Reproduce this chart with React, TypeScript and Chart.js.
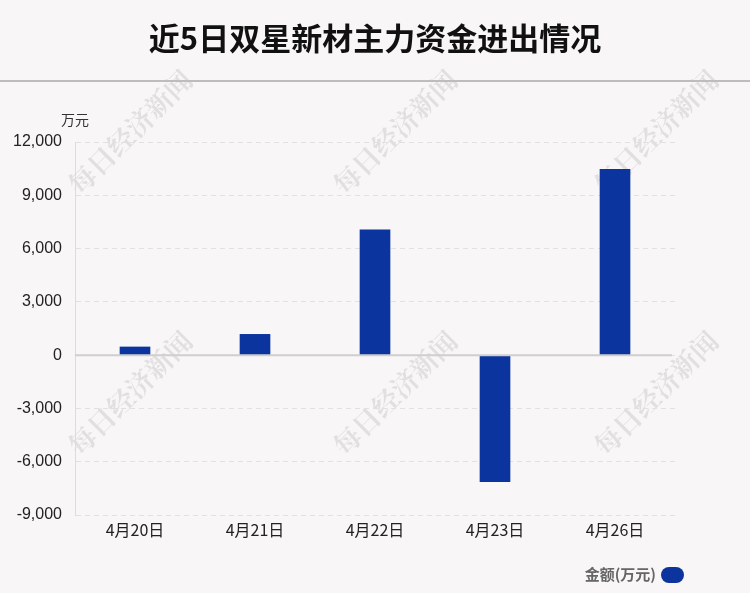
import React, { useEffect, useRef } from "react";
import { Chart, registerables } from "chart.js";

Chart.register(...registerables);

const categories = ["4月20日", "4月21日", "4月22日", "4月23日", "4月26日"];
const amounts = [460, 1170, 7050, -7130, 10460];
const seriesName = "金额(万元)";
const titleText = "近5日双星新材主力资金进出情况";
const unitText = "万元";
const watermarkText = "每日经济新闻";

const BAR_COLOR = "#0c349f";
const FONT = "'Liberation Sans', Arial, 'Noto Sans CJK SC', sans-serif";
const CJK_FONT = "'Noto Sans CJK SC', 'Liberation Sans', sans-serif";

const decorPlugin = {
  id: "decor",
  beforeDraw(chart: any) {
    const { ctx, width } = chart;
    ctx.save();
    ctx.fillStyle = "#f9f6f7";
    ctx.fillRect(0, 0, width, chart.height);
    // watermarks
    ctx.fillStyle = "rgba(0,0,0,0.09)";
    ctx.font = `bold 27px 'Noto Serif CJK SC', serif`;
    ctx.textAlign = "center";
    ctx.textBaseline = "middle";
    const centers = [
      [130, 132], [395, 132], [656, 132],
      [130, 393], [395, 393], [656, 393],
    ];
    for (const [cx, cy] of centers) {
      ctx.save();
      ctx.translate(cx, cy);
      ctx.rotate(-Math.PI / 4);
      ctx.fillText(watermarkText, 0, 0);
      ctx.restore();
    }
    // title
    ctx.fillStyle = "#111";
    ctx.font = `bold 31px ${CJK_FONT}`;
    ctx.textAlign = "center";
    ctx.textBaseline = "middle";
    ctx.fillText(titleText, width / 2, 38);
    // separator
    ctx.strokeStyle = "#bdbdbd";
    ctx.lineWidth = 2;
    ctx.beginPath();
    ctx.moveTo(0, 81);
    ctx.lineTo(width, 81);
    ctx.stroke();
    // unit
    ctx.fillStyle = "#333";
    ctx.font = `14px ${CJK_FONT}`;
    ctx.textAlign = "left";
    ctx.fillText(unitText, 61, 120);
    ctx.restore();
  },
  afterDatasetsDraw(chart: any) {
    const { ctx, chartArea, scales } = chart;
    const y0 = scales.y.getPixelForValue(0);
    ctx.save();
    ctx.strokeStyle = "#cfcfcf";
    ctx.lineWidth = 2;
    ctx.beginPath();
    ctx.moveTo(chartArea.left, y0);
    ctx.lineTo(chartArea.right - 3, y0);
    ctx.stroke();
    // legend
    ctx.font = `bold 15px ${CJK_FONT}`;
    ctx.fillStyle = "#666";
    ctx.textAlign = "right";
    ctx.textBaseline = "middle";
    ctx.fillText(seriesName, 656, 574);
    ctx.fillStyle = BAR_COLOR;
    ctx.beginPath();
    (ctx as any).roundRect(661, 567, 23, 16, 8);
    ctx.fill();
    ctx.restore();
  },
};

export default function App() {
  const ref = useRef<HTMLCanvasElement>(null);
  useEffect(() => {
    if (!ref.current) return;
    const chart = new Chart(ref.current, {
      type: "bar",
      data: {
        labels: categories,
        datasets: [
          {
            label: seriesName,
            data: amounts,
            backgroundColor: BAR_COLOR,
            barThickness: 30,
          },
        ],
      },
      options: {
        responsive: false,
        animation: false,
        layout: { padding: { left: 0, right: 75, top: 142, bottom: 48 } },
        plugins: {
          legend: { display: false },
          tooltip: { enabled: false },
        },
        scales: {
          x: {
            grid: { display: false, drawTicks: false },
            border: { display: false },
            ticks: { color: "#222", font: { size: 16, family: CJK_FONT }, padding: 5 },
            afterFit(scale: any) {
              scale.height = 30;
            },
          },
          y: {
            min: -9000,
            max: 12000,
            ticks: {
              stepSize: 3000,
              color: "#222",
              font: { size: 16, family: FONT },
              padding: 13,
              callback: (v: any) => Number(v).toLocaleString("en-US"),
            },
            grid: { color: "#e2e0e0", drawTicks: false },
            border: { color: "#dcdcdc", width: 1, dash: [5, 4] },
            afterFit(scale: any) {
              scale.width = 75;
            },
          },
        },
      },
      plugins: [decorPlugin],
    });
    return () => chart.destroy();
  }, []);
  return (
    <div style={{ position: "absolute", left: 0, top: 0, width: 750, height: 593 }}>
      <canvas ref={ref} width={750} height={593} />
    </div>
  );
}
